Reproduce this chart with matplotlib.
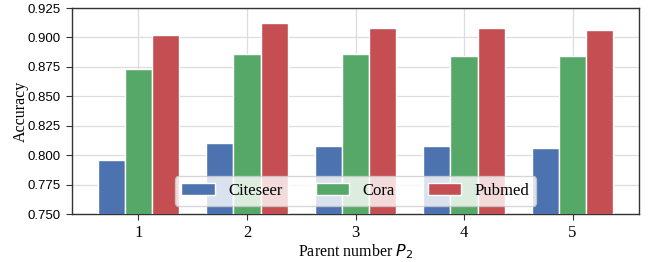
import matplotlib
matplotlib.use("Agg")
import matplotlib.pyplot as plt
import numpy as np

groups = [1, 2, 3, 4, 5]
series = ["Citeseer", "Cora", "Pubmed"]
citeseer = [0.796, 0.810, 0.808, 0.808, 0.806]
cora = [0.873, 0.886, 0.886, 0.884, 0.884]
pubmed = [0.902, 0.912, 0.908, 0.908, 0.906]
colors = ["#4C72B0", "#55A868", "#C44E52"]

plt.rcParams['font.family'] = ['Liberation Serif', 'DejaVu Serif']
plt.rcParams['mathtext.fontset'] = 'dejavusans'

fig = plt.figure(figsize=(6.51, 2.62), dpi=100)
ax = fig.add_axes([72/651, 48/262, (639-72)/651, (214-8)/262])

x = np.arange(len(groups)) + 1
w = 0.25
for i, (name, vals) in enumerate(zip(series, [citeseer, cora, pubmed])):
    ax.bar(x + (i - 1) * w, vals, w, color=colors[i], edgecolor='white',
           linewidth=1.0, label=name, zorder=3)

ax.set_ylim(0.75, 0.925)
ax.set_yticks(np.arange(0.75, 0.926, 0.025))
ax.set_yticklabels([f"{v:.3f}" for v in np.arange(0.75, 0.926, 0.025)],
                   family='Liberation Sans', fontsize=9.5)
ax.set_xticks(x)
ax.set_xticklabels([str(g) for g in groups], fontsize=12)
ax.grid(True, color='#dddddd', linewidth=0.9, zorder=0)
ax.set_axisbelow(True)
for s in ax.spines.values():
    s.set_color('#333333')
    s.set_linewidth(1.0)
ax.tick_params(axis='both', direction='out', length=4.5, color='#333333', width=0.8)
ax.set_ylabel("Accuracy", fontsize=11.5, labelpad=-1)
ax.set_xlabel("Parent number $P_2$", fontsize=11.5, labelpad=1)
leg = ax.legend(loc='lower center', ncol=3, fontsize=12, frameon=True)
leg.get_frame().set_alpha(0.8)
leg.get_frame().set_edgecolor('#cccccc')
fig.savefig("out.png", dpi=100)
